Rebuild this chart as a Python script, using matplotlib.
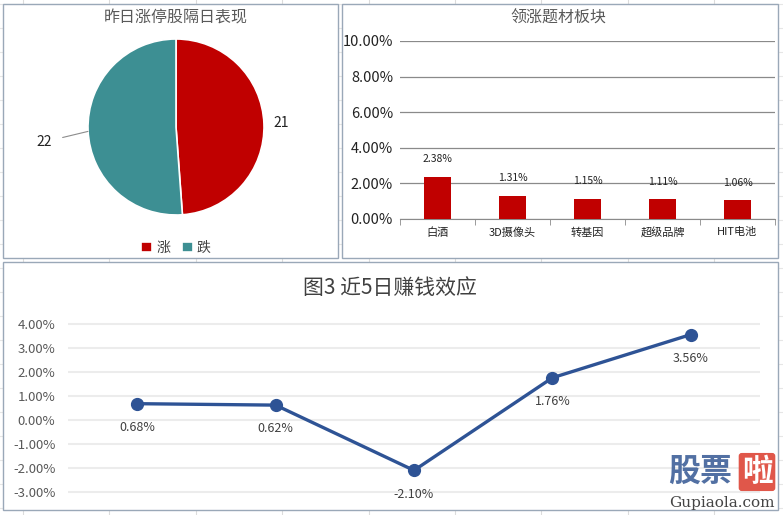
import numpy as np
import matplotlib
matplotlib.use("Agg")
import matplotlib.pyplot as plt
from matplotlib.patches import Rectangle
from matplotlib.ticker import FuncFormatter, MultipleLocator

plt.rcParams['font.family'] = ['Noto Sans CJK SC', 'DejaVu Sans']

# --- data ---
pie_labels = ["涨", "跌"]
pie_values = [21, 22]

bar_categories = ["白酒", "3D摄像头", "转基因", "超级品牌", "HIT电池"]
bar_values = [2.38, 1.31, 1.15, 1.11, 1.06]  # percent

line_days = [1, 2, 3, 4, 5]
line_values = [0.68, 0.62, -2.10, 1.76, 3.56]  # percent

RED = "#C00000"
TEAL = "#3D8F93"
BLUE = "#2E5395"
W, H = 783, 515


def rect(x0, y0, x1, y1):
    # pixel box (top-left origin) -> figure fraction
    return [x0 / W, 1 - y1 / H, (x1 - x0) / W, (y1 - y0) / H]


def pct(v, _):
    return f"{v:.2f}%"


fig = plt.figure(figsize=(W / 100, H / 100), dpi=100)

# spreadsheet background
bg = fig.add_axes([0, 0, 1, 1])
bg.set_xlim(0, W)
bg.set_ylim(H, 0)
bg.axis("off")
for x in np.arange(23, W, 86.4):
    bg.axvline(x, color="#dcdcdc", lw=0.8, zorder=1)
for y in np.arange(4, H, 24):
    bg.axhline(y, color="#e6e6e6", lw=0.8, zorder=1)
for (x0, y0, x1, y1) in [(3, 4, 338, 258), (342, 4, 778, 258), (3, 262, 778, 510)]:
    bg.add_patch(Rectangle((x0, y0), x1 - x0, y1 - y0, facecolor="white",
                           edgecolor="#9aa8b8", lw=1.0, zorder=5))

# --- pie ---
ax1 = fig.add_axes(rect(88, 39, 264, 215))
wedges, _ = ax1.pie(pie_values, colors=[RED, TEAL], startangle=90, counterclock=False,
                    wedgeprops=dict(edgecolor="white", linewidth=1.2))
ax1.set_xlim(-1, 1)
ax1.set_ylim(-1, 1)
ax1.set_aspect("equal")
ax1.axis("off")
w0 = wedges[0]
mid0 = np.deg2rad((w0.theta1 + w0.theta2) / 2)
ax1.text(1.2 * np.cos(mid0), 1.2 * np.sin(mid0), str(pie_values[0]),
         ha="center", va="center", fontsize=10, color="#222222", clip_on=False)
ax1.annotate(str(pie_values[1]), xy=(-1.0, -0.05), xytext=(-1.5, -0.17),
             ha="center", va="center", fontsize=10, color="#222222",
             arrowprops=dict(arrowstyle="-", color="#8c8c8c", lw=0.8,
                             shrinkA=6, shrinkB=0))
fig.text(176 / W, 1 - 18 / H, "昨日涨停股隔日表现", ha="center", va="center",
         fontsize=11.5, color="#595959")
fig.legend(wedges, pie_labels, loc="center", bbox_to_anchor=(176 / W, 1 - 248 / H),
           ncol=2, frameon=False, fontsize=10, handlelength=0.8, handleheight=0.8,
           handletextpad=0.3, columnspacing=0.8, labelcolor="#404040")

# --- bars ---
ax2 = fig.add_axes(rect(400, 41, 775, 219))
xb = np.arange(len(bar_categories))
bars = ax2.bar(xb, bar_values, width=0.37, color=RED, zorder=3)
for b, v in zip(bars, bar_values):
    ax2.annotate(f"{v:.2f}%", (b.get_x() + b.get_width() / 2, v), xytext=(0, 9),
                 textcoords="offset points", ha="center", va="bottom",
                 fontsize=7.5, color="#222222")
ax2.set_xlim(-0.5, len(bar_categories) - 0.5)
ax2.set_ylim(0, 10)
ax2.yaxis.set_major_locator(MultipleLocator(2))
ax2.yaxis.set_major_formatter(FuncFormatter(pct))
ax2.grid(axis="y", color="#8a8a8a", lw=0.9, zorder=0)
ax2.set_xticks(xb)
ax2.set_xticklabels(bar_categories, fontsize=8, color="#222222")
ax2.set_xticks(np.arange(-0.5, len(bar_categories), 1), minor=True)
ax2.tick_params(axis="x", which="major", length=0, pad=6)
ax2.tick_params(axis="x", which="minor", length=4, color="#8a8a8a")
ax2.tick_params(axis="y", length=0, labelsize=10.5, labelcolor="#222222", pad=5)
for s in ["top", "right", "left"]:
    ax2.spines[s].set_visible(False)
ax2.spines["bottom"].set_color("#8a8a8a")
ax2.patch.set_alpha(0)
fig.text(558 / W, 1 - 18 / H, "领涨题材板块", ha="center", va="center",
         fontsize=11.5, color="#595959")

# --- line ---
ax3 = fig.add_axes(rect(68, 312, 760, 504))
ax3.plot(line_days, line_values, color=BLUE, lw=2.4, marker="o", markersize=8.5,
         zorder=3)
for x, v in zip(line_days, line_values):
    ax3.annotate(f"{v:.2f}%", (x, v), xytext=(0, -17), textcoords="offset points",
                 ha="center", va="center", fontsize=9, color="#404040")
ax3.set_xlim(0.5, 5.5)
ax3.set_ylim(-3.5, 4.5)
ax3.set_yticks(np.arange(-3, 5, 1))
ax3.yaxis.set_major_formatter(FuncFormatter(pct))
ax3.grid(axis="y", color="#ececec", lw=1.5, zorder=0)
ax3.set_xticks([])
ax3.tick_params(axis="y", length=0, labelsize=9.5, labelcolor="#595959", pad=9)
for s in ax3.spines.values():
    s.set_visible(False)
ax3.patch.set_alpha(0)
fig.text(390 / W, 1 - 288 / H, "图3 近5日赚钱效应", ha="center", va="center",
         fontsize=15, color="#404040")

# watermark
fig.text(700 / W, 1 - 472 / H, "股票", ha="center", va="center", fontsize=23,
         fontweight="bold", color="#3F6199", alpha=0.9)
fig.text(757 / W, 1 - 472 / H, "啦", ha="center", va="center", fontsize=22,
         fontweight="bold", color="white",
         bbox=dict(boxstyle="round,pad=0.1", facecolor="#E0574A", edgecolor="none"))
fig.text(722 / W, 1 - 503 / H, "Gupiaola.com", ha="center", va="center", fontsize=11,
         family="DejaVu Serif", color="#444444")

fig.savefig("out.png", dpi=100)
plt.close(fig)
